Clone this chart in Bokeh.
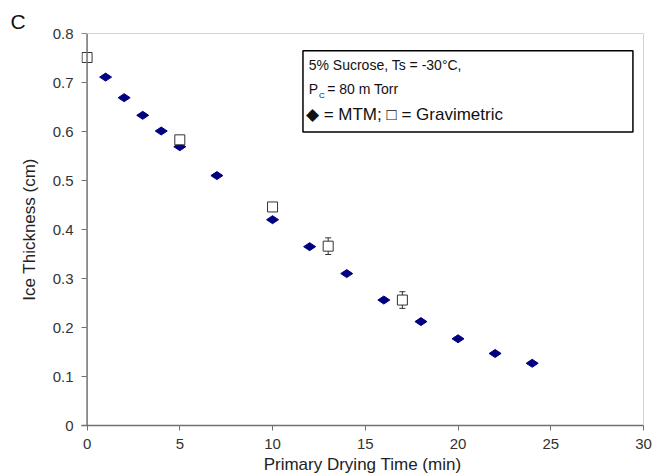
import numpy as np
from bokeh.plotting import figure
from bokeh.models import Range1d, Whisker, ColumnDataSource, Label, BoxAnnotation, FixedTicker, TeeHead, Span
from bokeh.embed import file_html
from bokeh.resources import INLINE

# Data
mtm_time = [1, 2, 3, 4, 5, 7, 10, 12, 14, 16, 18, 20, 22, 24]
mtm_thick = [0.711, 0.669, 0.633, 0.601, 0.569, 0.510, 0.420, 0.365, 0.310, 0.256, 0.212, 0.177, 0.147, 0.127]
grav_time = [0, 5, 10, 13, 17]
grav_thick = [0.751, 0.583, 0.446, 0.366, 0.256]
grav_err = [0.0, 0.0, 0.0, 0.017, 0.017]
x_ticks = [0, 5, 10, 15, 20, 25, 30]
y_ticks = [0, 0.1, 0.2, 0.3, 0.4, 0.5, 0.6, 0.7, 0.8]

FONT = "Liberation Sans"
AX = "#707070"

p = figure(width=652, height=476, output_backend="svg", toolbar_location=None,
           x_range=Range1d(-0.3, 30), y_range=Range1d(0, 0.8),
           min_border_left=81, min_border_right=9, min_border_top=33, min_border_bottom=49)
p.grid.visible = False
p.outline_line_color = None

# Panel letter as title
p.title.text = "C"
p.title.text_font = FONT
p.title.text_font_size = "21px"
p.title.text_font_style = "normal"
p.title.text_color = "#111111"
p.title.align = "left"
p.title.offset = -71
p.title.standoff = 2

for ax in (p.xaxis, p.yaxis):
    ax.major_tick_line_color = AX
    ax.major_tick_line_width = 1
    ax.minor_tick_line_color = None
    ax.major_label_text_font = FONT
    ax.major_label_text_font_size = "15px"
    ax.major_label_text_color = "#333333"
    ax.axis_label_text_font = FONT
    ax.axis_label_text_font_size = "17px"
    ax.axis_label_text_font_style = "normal"
    ax.axis_label_text_color = "#222222"

p.xaxis.axis_line_color = AX
p.xaxis.axis_line_width = 1.5
p.xaxis.major_tick_out = 5
p.xaxis.major_tick_in = 0
p.yaxis.axis_line_color = None
p.yaxis.major_tick_out = 0
p.yaxis.major_tick_in = 5

p.xaxis.ticker = FixedTicker(ticks=x_ticks)
p.yaxis.ticker = FixedTicker(ticks=y_ticks)
p.yaxis.major_label_overrides = {0: "0"}
p.xaxis.axis_label = "Primary Drying Time (min)"
p.yaxis.axis_label = "Ice Thickness (cm)"
p.xaxis.major_label_standoff = 8
p.xaxis.axis_label_standoff = 3
p.yaxis.major_label_standoff = 8
p.yaxis.axis_label_standoff = 11

# y axis line at x = 0, and the light top/right frame borders
p.add_layout(Span(location=0, dimension="height", line_color=AX, line_width=1.5))
p.add_layout(Span(location=30, dimension="height", line_color="#a8a8a8", line_width=1))
p.add_layout(Span(location=0.8, dimension="width", line_color="#a8a8a8", line_width=1))

# MTM diamonds (rotated so they are wider than tall)
p.scatter(mtm_time, mtm_thick, marker="diamond", size=12, angle=np.pi / 2,
          fill_color="#000080", line_color="#000080")

# Gravimetric error bars
upper = [v + e for v, e in zip(grav_thick, grav_err)]
lower = [v - e for v, e in zip(grav_thick, grav_err)]
gsrc = ColumnDataSource(dict(x=[t for t, e in zip(grav_time, grav_err) if e > 0],
                             upper=[u for u, e in zip(upper, grav_err) if e > 0],
                             lower=[l for l, e in zip(lower, grav_err) if e > 0]))
w = Whisker(source=gsrc, base="x", upper="upper", lower="lower", line_color="#333333",
            upper_head=TeeHead(size=6, line_color="#333333"),
            lower_head=TeeHead(size=6, line_color="#333333"))
p.add_layout(w)

p.scatter(grav_time, grav_thick, marker="square", size=10, fill_color="white",
          line_color="#333333", line_width=1)

# Legend-like annotation box
p.add_layout(BoxAnnotation(left=11.64, right=29.43, bottom=0.599, top=0.765,
                           fill_color="white", fill_alpha=1, line_color="black", line_alpha=1,
                           line_width=1.5, level="underlay"))
p.add_layout(Label(x=11.95, y=0.736, text="5% Sucrose, Ts = -30°C,", text_font=FONT,
                   text_font_size="14px", text_baseline="middle", text_color="#111111"))
p.add_layout(Label(x=11.95, y=0.686, text="P", text_font=FONT,
                   text_font_size="14px", text_baseline="middle", text_color="#111111"))
p.add_layout(Label(x=12.5, y=0.674, text="C", text_font=FONT,
                   text_font_size="8px", text_baseline="middle", text_color="#111111"))
p.add_layout(Label(x=12.95, y=0.686, text="= 80 m Torr", text_font=FONT,
                   text_font_size="14px", text_baseline="middle", text_color="#111111"))
p.add_layout(Label(x=11.8, y=0.635, text="\u25c6 = MTM; \u25a1 = Gravimetric", text_font=FONT,
                   text_font_size="17px", text_baseline="middle", text_color="#111111"))

open("out.html", "w").write(file_html(p, INLINE))
